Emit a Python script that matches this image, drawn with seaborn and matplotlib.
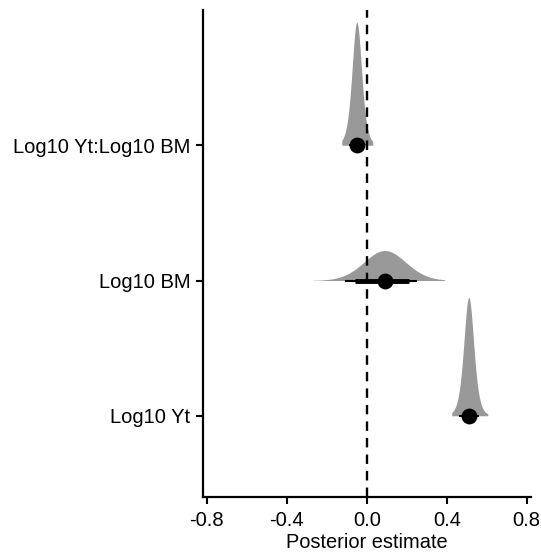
import math
import numpy as np
import pandas as pd
import matplotlib
import matplotlib.pyplot as plt
import seaborn as sns

matplotlib.use('Agg')
sns.set_theme(style="ticks")
plt.rcParams['font.family'] = ['Liberation Sans', 'DejaVu Sans']

# Posterior summaries
terms = ["Log10 Yt", "Log10 BM", "Log10 Yt:Log10 BM"]
medians = [0.51, 0.09, -0.05]
scales = [0.026, 0.106, 0.025]
tail_df = [6, 30, 6]
dens_lo = [0.425, -0.27, -0.125]
dens_hi = [0.605, 0.39, 0.03]
lo95 = [0.46, -0.11, -0.09]
hi95 = [0.56, 0.25, -0.01]
lo66 = [0.48, -0.06, -0.07]
hi66 = [0.54, 0.21, -0.03]

summary = pd.DataFrame({"term": terms, "median": medians, "pos": [1, 2, 3]})


def t_pdf(x, m, s, nu):
    c = math.gamma((nu + 1) / 2) / (math.sqrt(nu * math.pi) * math.gamma(nu / 2))
    z = (x - m) / s
    return c * (1 + z ** 2 / nu) ** (-(nu + 1) / 2) / s


fig = plt.figure(figsize=(5.41, 5.54), dpi=100)
ax = fig.add_axes([0.375, 0.103, 0.606, 0.879])

# half-eye densities, heights normalised over all terms
curves = []
for m, s, nu, a, b in zip(medians, scales, tail_df, dens_lo, dens_hi):
    xs = np.linspace(a, b, 400)
    curves.append((xs, t_pdf(xs, m, s, nu)))
peak = max(c[1].max() for c in curves)
for (xs, d), y0 in zip(curves, summary["pos"]):
    ax.fill_between(xs, y0, y0 + 0.91 * d / peak, color="#999999", lw=0, zorder=1)

ax.axvline(0, color="black", lw=1.7, ls=(0, (4, 3)), zorder=2)

ax.hlines(summary["pos"], lo95, hi95, color="black", lw=1.5, zorder=3)
ax.hlines(summary["pos"], lo66, hi66, color="black", lw=3.5, zorder=3)
sns.scatterplot(data=summary, x="median", y="pos", ax=ax, color="black",
                s=130, edgecolor="black", linewidth=0, zorder=4, legend=False)

ax.set_xlim(-0.82, 0.82)
ax.set_ylim(0.4, 4.0)
ax.set_xticks([-0.8, -0.4, 0.0, 0.4, 0.8])
ax.set_xticklabels(["-0.8", "-0.4", "0.0", "0.4", "0.8"])
ax.set_yticks(summary["pos"])
ax.set_yticklabels(terms)
ax.set_xlabel("Posterior estimate", fontsize=14.4, color="black", labelpad=2)
ax.set_ylabel("")
ax.tick_params(labelsize=14.5, colors="black", width=1.5, length=5, pad=4)
ax.tick_params(axis="x", pad=5)
for side in ["top", "right"]:
    ax.spines[side].set_visible(False)
for side in ["left", "bottom"]:
    ax.spines[side].set_color("black")
    ax.spines[side].set_linewidth(1.6)
ax.grid(False)

fig.savefig("out.png", dpi=100)
